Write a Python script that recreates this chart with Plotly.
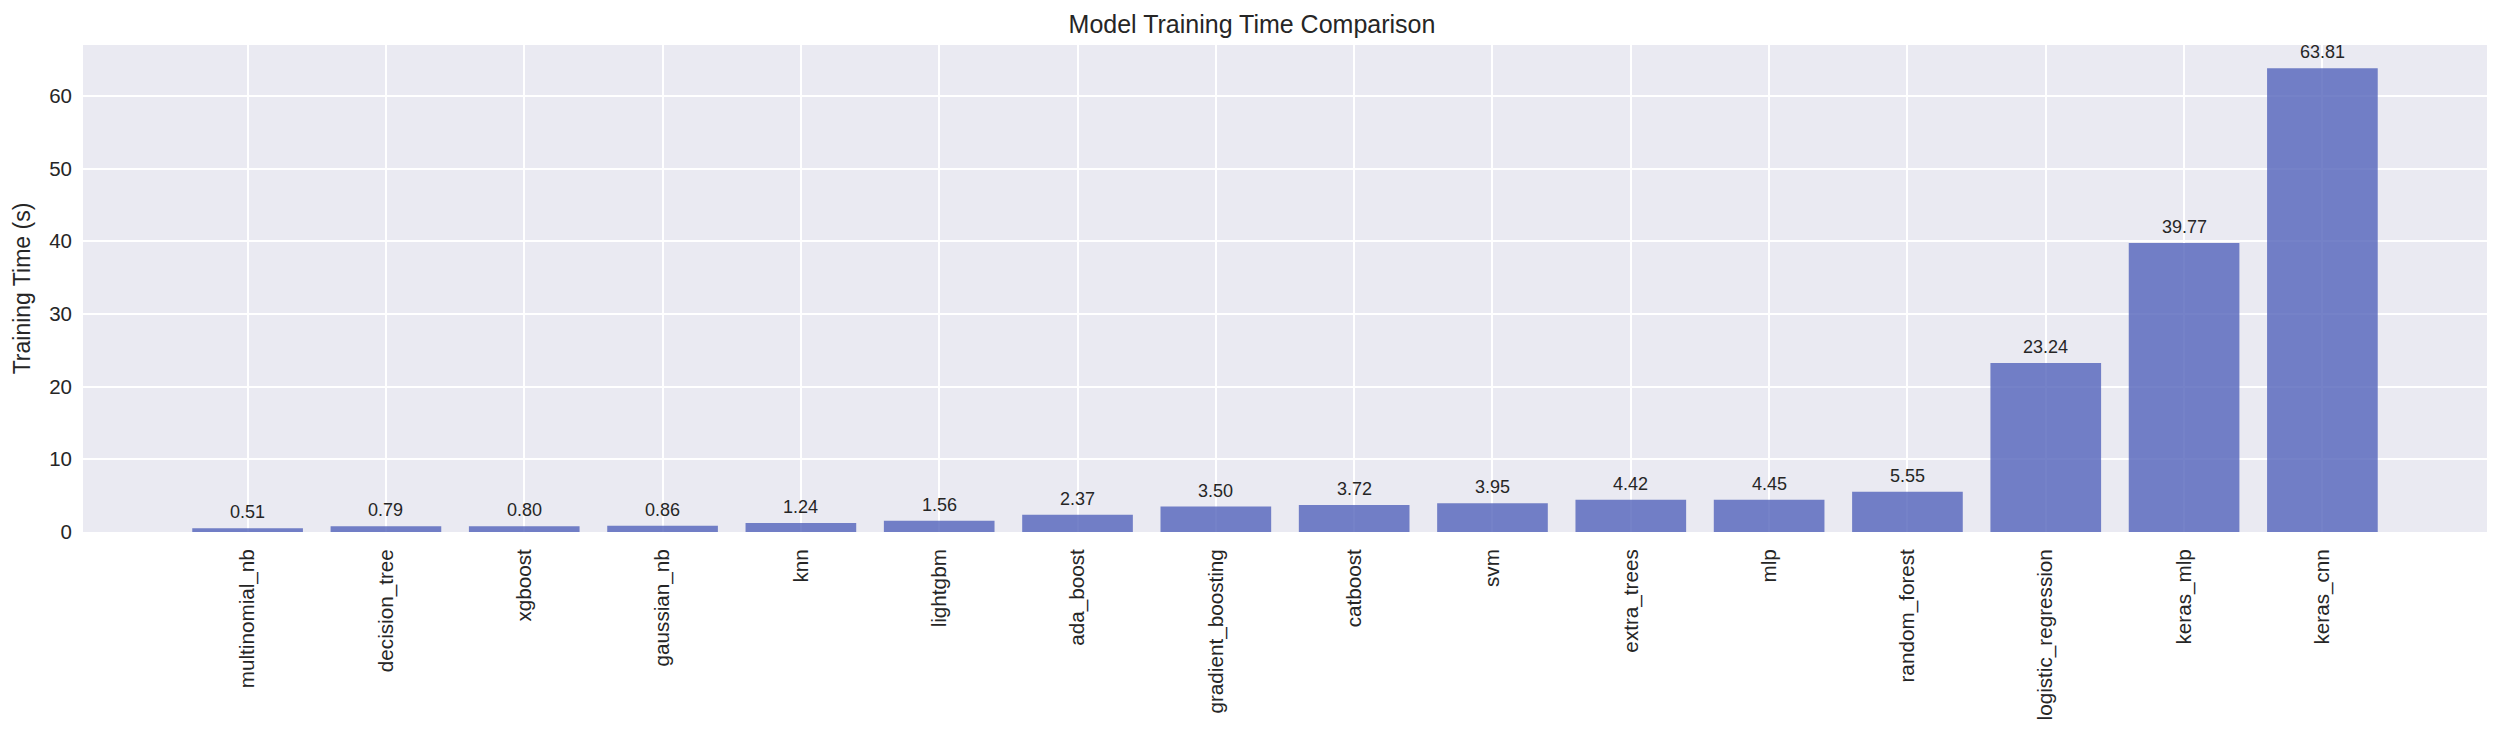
import plotly.graph_objects as go

models = ["multinomial_nb", "decision_tree", "xgboost", "gaussian_nb", "knn", "lightgbm",
          "ada_boost", "gradient_boosting", "catboost", "svm", "extra_trees", "mlp",
          "random_forest", "logistic_regression", "keras_mlp", "keras_cnn"]
train_time = [0.51, 0.79, 0.80, 0.86, 1.24, 1.56, 2.37, 3.50, 3.72, 3.95, 4.42, 4.45,
              5.55, 23.24, 39.77, 63.81]
y_ticks = [0, 10, 20, 30, 40, 50, 60]

FONT = "Liberation Sans, Arial, sans-serif"
TXT = "#262626"

fig = go.Figure()
fig.add_trace(go.Bar(
    x=models, y=train_time, width=0.8,
    marker=dict(color="rgba(83,99,186,0.8)", line=dict(width=0)),
    hoverinfo="x+y",
))

for m, v in zip(models, train_time):
    fig.add_annotation(x=m, y=v, text=f"{v:.2f}", showarrow=False,
                       yanchor="bottom", yshift=4,
                       font=dict(family=FONT, size=18, color=TXT))

n = len(models)
fig.update_layout(
    width=2504, height=735,
    margin=dict(l=83, r=17, t=45, b=203),
    paper_bgcolor="white", plot_bgcolor="#EAEAF2",
    showlegend=False,
    title=dict(text="Model Training Time Comparison", x=0.5, xanchor="center",
               y=1 - 24 / 735, yanchor="middle",
               font=dict(family=FONT, size=25, color=TXT)),
    font=dict(family=FONT, color=TXT),
)
fig.update_xaxes(
    type="category", range=[-1.19, n - 1 + 1.19],
    tickangle=-90, tickfont=dict(family=FONT, size=20.7, color=TXT),
    showgrid=True, gridcolor="white", gridwidth=2,
    showline=False, zeroline=False, ticks="", ticklabelstandoff=12,
)
fig.update_yaxes(
    range=[0, max(train_time) * 1.05],
    tickvals=y_ticks, ticktext=[str(t) for t in y_ticks],
    tickfont=dict(family=FONT, size=20.5, color=TXT),
    showgrid=True, gridcolor="white", gridwidth=2,
    showline=False, zeroline=False, ticks="", ticklabelstandoff=10,
    title=dict(text="Training Time (s)", font=dict(family=FONT, size=23, color=TXT), standoff=12),
)

fig.write_html("out.html")
